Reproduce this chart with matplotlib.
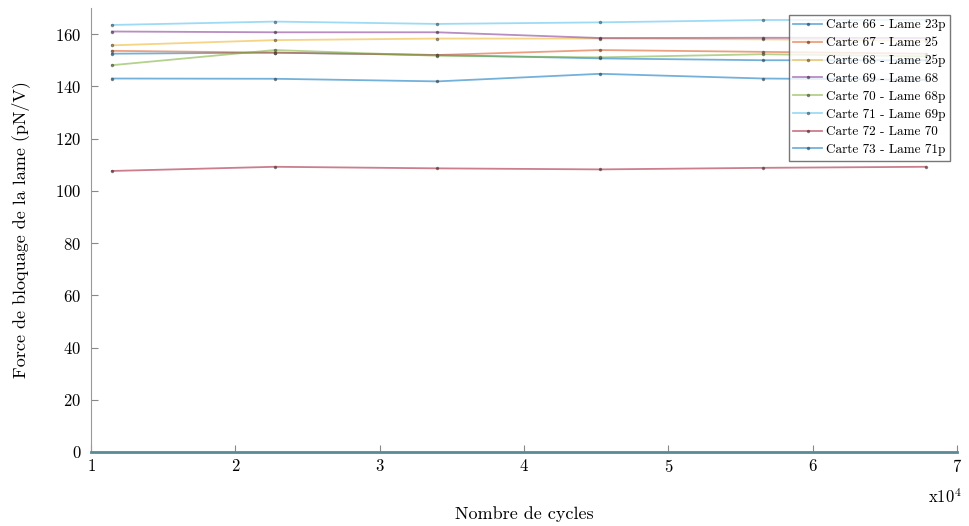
import matplotlib
matplotlib.use('Agg')
import matplotlib.pyplot as plt

plt.rcParams['font.family'] = ['cmr10', 'DejaVu Serif']
plt.rcParams['mathtext.fontset'] = 'cm'
plt.rcParams['axes.formatter.use_mathtext'] = True

# cycles (x1e4 shown on axis)
cycles = [11450, 22730, 34000, 45280, 56550, 67830]

# blocking force per board / blade
carte66 = [152.5, 152.9, 152.0, 150.7, 150.0, 150.0]
carte67 = [153.6, 152.9, 152.0, 153.9, 153.2, 152.5]
carte68 = [155.7, 157.7, 158.3, 158.3, 158.0, 157.5]
carte69 = [161.0, 160.7, 160.7, 158.5, 158.6, 158.5]
carte70 = [148.1, 153.9, 151.7, 151.1, 152.3, 151.5]
carte71 = [163.5, 164.8, 163.9, 164.5, 165.4, 165.5]
carte72 = [107.6, 109.2, 108.6, 108.2, 108.8, 109.2]
carte73 = [143.0, 142.9, 141.9, 144.8, 143.0, 142.5]

labels = ['Carte 66 - Lame 23p', 'Carte 67 - Lame 25', 'Carte 68 - Lame 25p',
          'Carte 69 - Lame 68', 'Carte 70 - Lame 68p', 'Carte 71 - Lame 69p',
          'Carte 72 - Lame 70', 'Carte 73 - Lame 71p']
series = [carte66, carte67, carte68, carte69, carte70, carte71, carte72, carte73]
colors = ['#0072bd', '#d95319', '#edb120', '#7e2f8e',
          '#77ac30', '#4dbeee', '#a2142f', '#0072bd']

fig = plt.figure(figsize=(9.69, 5.26), dpi=100)
ax = fig.add_axes([0.0939, 0.1407, 0.8937, 0.8441])

for vals, lab, c in zip(series, labels, colors):
    ax.plot([c_ / 1e4 for c_ in cycles], vals, color=c, alpha=0.55, lw=1.3,
            marker='.', markersize=3, markeredgecolor='#333333', label=lab)

ax.set_xlim(1, 7)
ax.set_ylim(0, 170)
ax.set_xticks(range(1, 8))
ax.set_yticks(range(0, 161, 20))
ax.tick_params(direction='in', colors='#888888', labelcolor='black', labelsize=12, length=5)
ax.tick_params(axis='x', pad=4)
ax.tick_params(axis='y', pad=7)

ax.spines['top'].set_visible(False)
ax.spines['right'].set_visible(False)
ax.spines['left'].set_color('#999999')
ax.spines['bottom'].set_color('#5a8a96')
ax.spines['bottom'].set_linewidth(2)

ax.set_xlabel('Nombre de cycles', fontsize=13)
ax.xaxis.set_label_coords(0.5, -0.123)
ax.set_ylabel('Force de bloquage de la lame (pN/V)', fontsize=13)
ax.yaxis.set_label_coords(-0.071, 0.5)
fig.text(0.975, 0.055, r'x10$^4$', fontsize=12, ha='center', va='center')

leg = ax.legend(loc='upper right', fontsize=9.5, frameon=True, fancybox=False,
                borderaxespad=0.5, handlelength=2.2, labelspacing=0.42,
                borderpad=0.35, handletextpad=0.3)
leg.get_frame().set_edgecolor('#555555')
leg.get_frame().set_linewidth(1.0)

fig.savefig('out.png', dpi=100)
